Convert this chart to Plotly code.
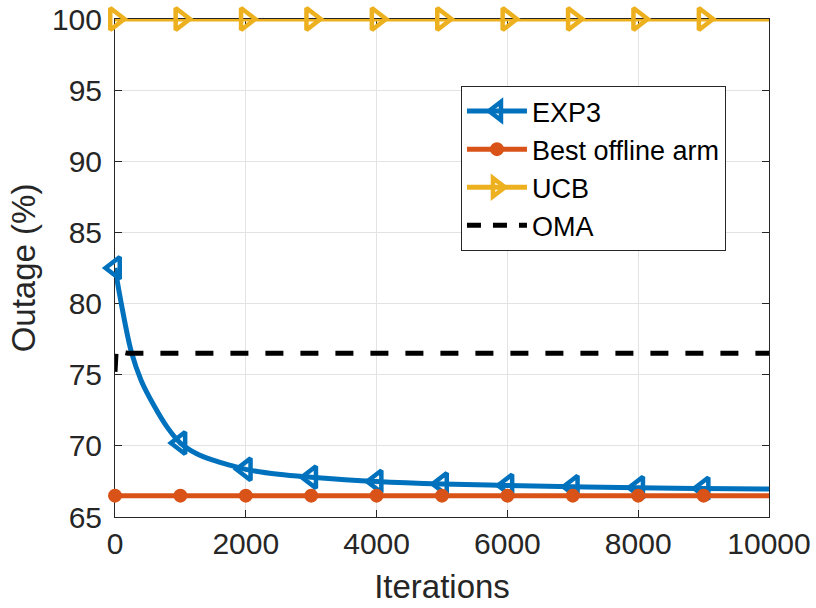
import plotly.graph_objects as go

# ---------------- data ----------------
exp3_iter = [0, 100, 250, 400, 600, 800, 1000, 1250, 1500, 1750, 2000,
             2500, 3000, 4000, 5000, 6000, 7000, 8000, 9000, 10000]
exp3_val = [82.5, 79.9, 76.6, 74.6, 72.8, 71.3, 70.2, 69.45, 69.0, 68.65,
            68.35, 68.0, 67.8, 67.5, 67.32, 67.22, 67.13, 67.05, 67.0, 66.96]

best_iter = [0, 1000, 2000, 3000, 4000, 5000, 6000, 7000, 8000, 9000, 10000]
best_val = [66.5, 66.5, 66.5, 66.5, 66.5, 66.5, 66.5, 66.5, 66.5, 66.5, 66.5]

ucb_iter = [0, 1000, 2000, 3000, 4000, 5000, 6000, 7000, 8000, 9000, 10000]
ucb_val = [100, 100, 100, 100, 100, 100, 100, 100, 100, 100, 100]

oma_iter = [0, 20, 50, 100, 200, 10000]
oma_val = [75.2, 76.9, 76.8, 76.6, 76.5, 76.5]

marker_iters = [0, 1000, 2000, 3000, 4000, 5000, 6000, 7000, 8000, 9000]

x_ticks = [0, 2000, 4000, 6000, 8000, 10000]
x_ticktext = ["0", "2000", "4000", "6000", "8000", "10000"]
y_ticks = [65, 70, 75, 80, 85, 90, 95, 100]

names = ["EXP3", "Best offline arm", "UCB", "OMA"]

# ---------------- style ----------------
BLUE = "#0072BD"
ORANGE = "#D95319"
YELLOW = "#EDB120"
BLACK = "#000000"
LW = 5
FONT = "Liberation Sans, Arial, Helvetica, sans-serif"
AXC = "#262626"


def pick(xs, ys, keep):
    px, py = [], []
    for a, b in zip(xs, ys):
        if a in keep:
            px.append(a)
            py.append(b)
    return px, py


fig = go.Figure()

tri_l = dict(symbol="triangle-left-open", size=19, color=BLUE, line=dict(width=4.5, color=BLUE))
circ = dict(symbol="circle", size=12, color=ORANGE, line=dict(width=2, color=ORANGE))
tri_r = dict(symbol="triangle-right-open", size=19, color=YELLOW, line=dict(width=4.5, color=YELLOW))

# EXP3
fig.add_trace(go.Scatter(x=exp3_iter, y=exp3_val, mode="lines", showlegend=False,
                         line=dict(color=BLUE, width=LW, shape="spline", smoothing=1.0),
                         cliponaxis=False, hoverinfo="skip"))
mx, my = pick(exp3_iter, exp3_val, marker_iters)
fig.add_trace(go.Scatter(x=mx, y=my, mode="markers", showlegend=False, marker=tri_l,
                         cliponaxis=False))
# Best offline arm
fig.add_trace(go.Scatter(x=best_iter, y=best_val, mode="lines", showlegend=False,
                         line=dict(color=ORANGE, width=LW), cliponaxis=False))
mx, my = pick(best_iter, best_val, marker_iters)
fig.add_trace(go.Scatter(x=mx, y=my, mode="markers", showlegend=False, marker=circ,
                         cliponaxis=False))
# UCB
fig.add_trace(go.Scatter(x=ucb_iter, y=ucb_val, mode="lines", showlegend=False,
                         line=dict(color=YELLOW, width=LW), cliponaxis=False))
mx, my = pick(ucb_iter, ucb_val, marker_iters)
fig.add_trace(go.Scatter(x=mx, y=my, mode="markers", showlegend=False, marker=tri_r,
                         cliponaxis=False))
# OMA
fig.add_trace(go.Scatter(x=oma_iter, y=oma_val, mode="lines", showlegend=False,
                         line=dict(color=BLACK, width=LW, dash="18px,17px"),
                         cliponaxis=False))

# legend entries
fig.add_trace(go.Scatter(x=[None], y=[None], mode="lines+markers", name=names[0],
                         line=dict(color=BLUE, width=LW), marker=tri_l))
fig.add_trace(go.Scatter(x=[None], y=[None], mode="lines+markers", name=names[1],
                         line=dict(color=ORANGE, width=LW), marker=circ))
fig.add_trace(go.Scatter(x=[None], y=[None], mode="lines+markers", name=names[2],
                         line=dict(color=YELLOW, width=LW), marker=tri_r))
fig.add_trace(go.Scatter(x=[None], y=[None], mode="lines", name=names[3],
                         line=dict(color=BLACK, width=LW, dash="14px,12px")))

axis_common = dict(
    showline=True, linecolor=AXC, linewidth=1, mirror="ticks",
    ticks="inside", ticklen=7, tickwidth=1, tickcolor=AXC,
    showgrid=True, gridcolor="#e3e3e3", gridwidth=1,
    zeroline=False, layer="below traces", automargin=False,
    tickfont=dict(family=FONT, size=30, color=AXC),
)

fig.update_layout(
    width=816, height=608,
    margin=dict(l=115, r=47, t=19, b=91),
    paper_bgcolor="white", plot_bgcolor="white",
    font=dict(family=FONT, color=AXC),
    xaxis=dict(range=[0, 10000], tickvals=x_ticks, ticktext=x_ticktext,
               title=dict(text="Iterations", font=dict(family=FONT, size=33, color=AXC), standoff=15),
               ticklabelstandoff=0, **axis_common),
    yaxis=dict(range=[65, 100], tickvals=y_ticks,
               title=dict(text="Outage (%)", font=dict(family=FONT, size=33, color=AXC), standoff=6),
               ticklabelstandoff=6, **axis_common),
    legend=dict(x=0.529, y=0.8655, xanchor="left", yanchor="top",
                bgcolor="white", bordercolor=AXC, borderwidth=1,
                font=dict(family=FONT, size=27, color="#000000"),
                itemwidth=60, tracegroupgap=0),
    showlegend=True,
)

fig.write_html("out.html", config={"displayModeBar": False},
               post_script="document.body.style.margin='0';document.body.style.overflow='hidden';")
